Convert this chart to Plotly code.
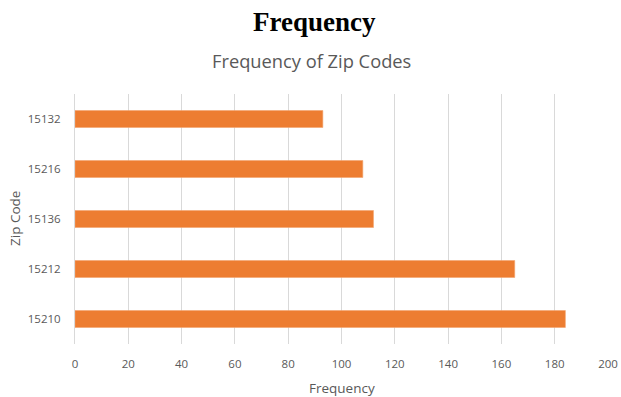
import plotly.graph_objects as go

# Zip codes listed top to bottom, with their counts
zip_codes = ["15132", "15216", "15136", "15212", "15210"]
counts = [93, 108, 112, 165, 184]
x_ticks = [0, 20, 40, 60, 80, 100, 120, 140, 160, 180, 200]

label_gray = "#595959"
grid_gray = "#d9d9d9"

# plot area in pixels
L, R, T, B = 75, 608, 94, 344
W, H = 621, 397
pw, ph = R - L, B - T

fig = go.Figure(
    go.Bar(
        x=counts,
        y=zip_codes,
        orientation="h",
        marker=dict(color="#ED7D31", line=dict(color="#F4A46E", width=0.6)),
        hoverinfo="x+y",
    )
)


def px_x(x):
    return (x - L) / pw


def px_y(y):
    return (B - y) / ph


fig.update_layout(
    width=W,
    height=H,
    margin=dict(l=L, r=W - R, t=T, b=H - B, autoexpand=False),
    paper_bgcolor="white",
    plot_bgcolor="white",
    bargap=0.66,
    showlegend=False,
    font=dict(family="Open Sans, Liberation Sans, sans-serif", color=label_gray, size=11),
    annotations=[
        dict(
            text="<b>Frequency</b>",
            xref="paper", yref="paper",
            x=px_x(314), y=px_y(22),
            xanchor="center", yanchor="middle",
            showarrow=False,
            font=dict(family="Liberation Serif, Times New Roman, serif", size=27, color="black"),
        ),
        dict(
            text="Frequency of Zip Codes",
            xref="paper", yref="paper",
            x=px_x(311), y=px_y(60),
            xanchor="center", yanchor="middle",
            showarrow=False,
            font=dict(family="Open Sans, Liberation Sans, sans-serif", size=18.3, color=label_gray),
        ),
        dict(
            text="Frequency",
            xref="paper", yref="paper",
            x=px_x(342), y=px_y(388),
            xanchor="center", yanchor="middle",
            showarrow=False,
            font=dict(size=13.5, color=label_gray),
        ),
        dict(
            text="Zip Code",
            xref="paper", yref="paper",
            x=px_x(15), y=px_y(219),
            xanchor="center", yanchor="middle",
            textangle=-90,
            showarrow=False,
            font=dict(size=13.5, color=label_gray),
        ),
    ],
)

fig.update_xaxes(
    range=[0, 200],
    tickvals=x_ticks,
    showgrid=True,
    gridcolor=grid_gray,
    gridwidth=1,
    zeroline=False,
    showline=False,
    ticks="",
    ticklabelstandoff=11,
    tickfont=dict(size=11.5, color=label_gray),
    automargin=False,
    fixedrange=True,
)

fig.update_yaxes(
    type="category",
    categoryorder="array",
    categoryarray=list(reversed(zip_codes)),
    showgrid=False,
    showline=True,
    linecolor=grid_gray,
    linewidth=1,
    ticks="",
    ticklabelstandoff=11,
    tickfont=dict(size=11.5, color=label_gray),
    automargin=False,
    fixedrange=True,
)

fig.write_html("out.html")
